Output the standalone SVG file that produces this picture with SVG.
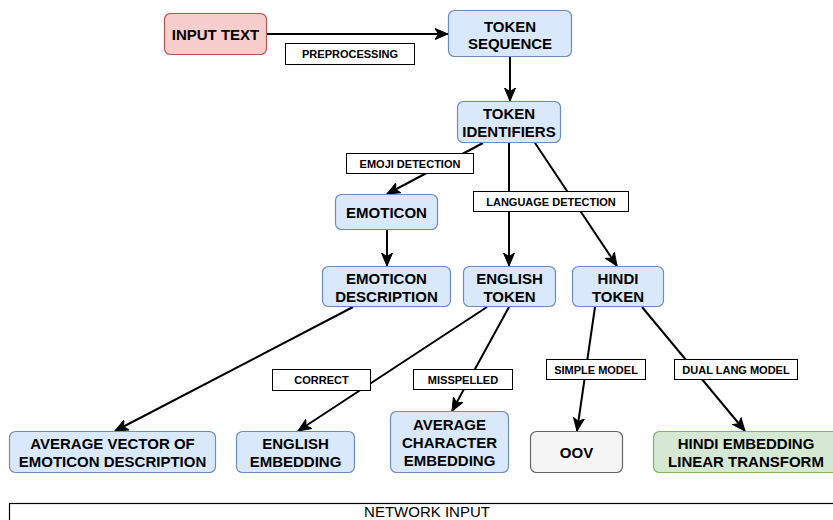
<svg xmlns="http://www.w3.org/2000/svg" width="833" height="520" viewBox="0 0 833 520">
<defs>
<marker id="arr" markerUnits="userSpaceOnUse" markerWidth="14" markerHeight="12" viewBox="0 0 14 12" refX="13" refY="6" orient="auto">
<path d="M0,0.5 L13,6 L0,11.5 L3.5,6 Z" fill="#000" stroke="#000" stroke-width="1"/>
</marker>
</defs>
<style>
.n rect{stroke-width:1.2}
.blue rect{fill:#dae8fc;stroke:#6c8ebf}
.red rect{fill:#f8cecc;stroke:#b85450}
.green rect{fill:#d5e8d4;stroke:#82b366}
.gray rect{fill:#f5f5f5;stroke:#666666}
.n text{font-family:"Liberation Sans",Arial,sans-serif;font-weight:bold;font-size:15px;text-anchor:middle;fill:#000}
.e{fill:none;stroke:#000;stroke-width:2;marker-end:url(#arr)}
.lbl rect{fill:#fff;stroke:#000;stroke-width:1}
.lbl text{font-family:"Liberation Sans",Arial,sans-serif;font-weight:bold;font-size:11px;text-anchor:middle;fill:#000}
</style>
<g id="connectors">
<line class="e" x1="267" y1="34" x2="448" y2="34"/>
<line class="e" x1="510" y1="57" x2="510" y2="101"/>
<line class="e" x1="483" y1="143" x2="387" y2="194"/>
<line class="e" x1="509" y1="143" x2="509" y2="266"/>
<line class="e" x1="535" y1="143" x2="617" y2="266"/>
<line class="e" x1="387" y1="230" x2="387" y2="266"/>
<line class="e" x1="353" y1="307" x2="115" y2="431"/>
<line class="e" x1="487" y1="307" x2="298" y2="431"/>
<line class="e" x1="509" y1="307" x2="452" y2="411"/>
<line class="e" x1="595" y1="307" x2="577" y2="431"/>
<line class="e" x1="642" y1="307" x2="745" y2="431"/>
<g class="lbl" id="lbl-preprocessing"><rect x="285.5" y="43.5" width="129" height="21"/><text x="350" y="58">PREPROCESSING</text></g>
<g class="lbl" id="lbl-emoji"><rect x="346.5" y="153.5" width="127" height="20"/><text x="410" y="167.5">EMOJI DETECTION</text></g>
<g class="lbl" id="lbl-lang"><rect x="473.5" y="191.5" width="155" height="20"/><text x="551" y="205.5">LANGUAGE DETECTION</text></g>
<g class="lbl" id="lbl-correct"><rect x="272.5" y="369.5" width="98" height="21"/><text x="321.5" y="384">CORRECT</text></g>
<g class="lbl" id="lbl-misspelled"><rect x="413.5" y="369.5" width="99" height="20"/><text x="463" y="383.5">MISSPELLED</text></g>
<g class="lbl" id="lbl-simple"><rect x="546.5" y="359.5" width="99" height="20"/><text x="596" y="373.5">SIMPLE MODEL</text></g>
<g class="lbl" id="lbl-dual"><rect x="674.5" y="359.5" width="123" height="20"/><text x="736" y="373.5">DUAL LANG MODEL</text></g>
</g>
<g id="input-text" class="n red"><rect x="164.5" y="13.5" width="102" height="41" rx="6"/><text x="215.5" y="40">INPUT TEXT</text></g>
<g id="token-sequence" class="n blue"><rect x="448.5" y="10.5" width="123" height="46" rx="6"/><text x="510" y="31.5">TOKEN</text><text x="510" y="49">SEQUENCE</text></g>
<g id="token-identifiers" class="n blue"><rect x="457.5" y="101.5" width="103" height="41" rx="6"/><text x="509" y="119">TOKEN</text><text x="509" y="137">IDENTIFIERS</text></g>
<g id="emoticon" class="n blue"><rect x="335.5" y="194.5" width="102" height="35" rx="6"/><text x="386.5" y="217.5">EMOTICON</text></g>
<g id="emoticon-description" class="n blue"><rect x="322.5" y="266.5" width="128" height="40" rx="6"/><text x="386.5" y="284">EMOTICON</text><text x="386.5" y="302">DESCRIPTION</text></g>
<g id="english-token" class="n blue"><rect x="463.5" y="266.5" width="92" height="40" rx="6"/><text x="509.5" y="284">ENGLISH</text><text x="509.5" y="302">TOKEN</text></g>
<g id="hindi-token" class="n blue"><rect x="572.5" y="266.5" width="91" height="40" rx="6"/><text x="618" y="284">HINDI</text><text x="618" y="302">TOKEN</text></g>
<g id="average-vector" class="n blue"><rect x="9.5" y="431.5" width="206" height="41" rx="6"/><text x="112.5" y="449">AVERAGE VECTOR OF</text><text x="112.5" y="467">EMOTICON DESCRIPTION</text></g>
<g id="english-embedding" class="n blue"><rect x="236.5" y="431.5" width="118" height="41" rx="6"/><text x="295.5" y="449">ENGLISH</text><text x="295.5" y="467">EMBEDDING</text></g>
<g id="average-character-embedding" class="n blue"><rect x="390.5" y="411.5" width="118" height="61" rx="6"/><text x="449.5" y="430">AVERAGE</text><text x="449.5" y="448">CHARACTER</text><text x="449.5" y="466">EMBEDDING</text></g>
<g id="oov" class="n gray"><rect x="530.5" y="431.5" width="92" height="41" rx="6"/><text x="576.5" y="458">OOV</text></g>
<g id="hindi-embedding" class="n green"><rect x="653.5" y="431.5" width="186" height="41" rx="6"/><text x="746" y="449">HINDI EMBEDDING</text><text x="746" y="467">LINEAR TRANSFORM</text></g>
<g id="network-input"><rect x="9.5" y="503.5" width="835" height="40" fill="#fff" stroke="#000" stroke-width="1.2"/><text x="427" y="516.5" font-family="Liberation Sans,Arial,sans-serif" font-size="15" text-anchor="middle">NETWORK INPUT</text></g>
</svg>
